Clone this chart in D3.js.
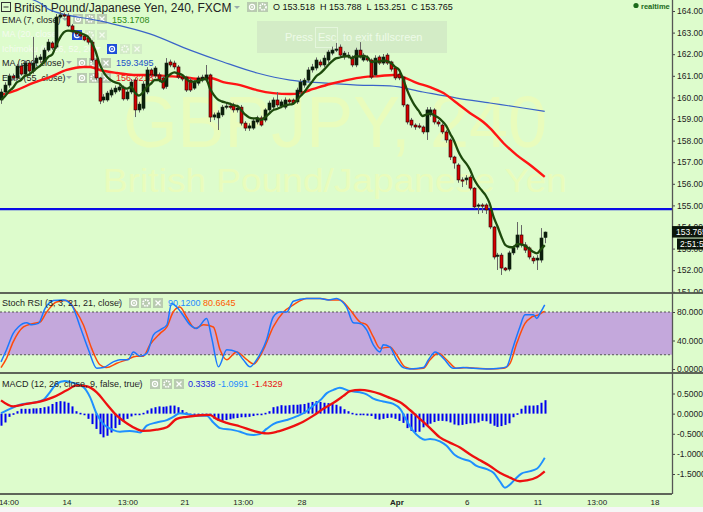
<!DOCTYPE html>
<html><head><meta charset="utf-8">
<script src="https://cdn.jsdelivr.net/npm/d3@7"></script>
<style>
html,body{margin:0;padding:0;background:#ddfccc;overflow:hidden}
svg{display:block;font-family:"Liberation Sans",Arial,sans-serif}
</style></head><body>
<svg id="c" width="703" height="512"></svg>
<script>
// ---------- DATA ----------
const open=[159.88,160.25,160.57,160.99,160.90,161.45,161.08,161.59,161.22,161.59,
161.75,161.64,162.19,162.52,162.33,163.72,163.82,163.77,163.31,163.03,
162.94,162.84,162.75,162.56,161.73,160.90,159.88,159.88,160.11,160.25,
160.34,160.48,159.93,160.25,160.80,159.42,159.50,160.25,161.27,161.00,
161.04,160.90,160.50,161.64,161.59,161.41,160.94,160.94,160.80,160.43,
160.66,160.80,160.80,161.04,159.09,159.05,159.19,159.55,159.60,159.65,
159.42,159.55,158.81,158.58,158.58,158.86,159.05,158.95,159.42,159.55,
159.88,159.60,159.55,159.88,159.88,159.79,160.25,160.57,160.80,161.27,
161.36,161.64,161.50,161.73,162.05,162.19,162.33,161.87,161.87,161.87,
161.50,162.19,161.73,161.82,161.73,161.04,161.87,161.59,161.96,161.64,
161.36,161.08,160.94,159.65,158.95,158.72,158.68,158.63,158.40,159.19,
159.42,158.86,158.72,158.40,158.03,157.24,156.87,156.18,156.18,156.31,
155.80,154.97,155.02,155.02,154.79,154.00,152.66,152.70,152.10,152.05,
152.80,153.07,153.63,153.17,153.03,152.56,152.47,152.47,153.518];
const high=[160.40,160.70,161.10,161.10,161.55,161.60,161.70,161.70,162.80,161.95,
162.00,162.30,162.70,162.60,163.86,163.95,163.92,163.90,163.40,163.10,
163.05,162.95,162.85,162.65,161.80,160.95,160.15,160.30,160.45,160.55,
160.60,160.55,160.35,160.85,160.90,159.80,160.75,161.40,161.35,161.45,
161.15,161.00,161.82,161.75,161.70,161.50,161.05,161.00,160.90,160.80,
161.00,161.05,161.50,161.10,159.30,159.40,159.65,159.75,159.75,159.75,
159.60,159.65,158.90,158.80,159.00,159.15,159.15,159.50,159.85,160.00,
160.25,159.90,160.00,159.95,159.95,160.45,160.85,160.90,161.40,161.55,
161.85,161.75,161.95,162.20,162.35,162.52,162.45,162.15,162.10,161.95,
162.30,162.56,162.05,161.95,161.80,161.95,161.95,162.01,162.05,161.70,
161.45,161.15,161.00,159.70,159.05,158.80,158.80,158.70,159.55,159.55,
159.50,158.95,158.80,158.50,158.10,157.30,156.95,156.30,156.40,156.40,
155.85,155.10,155.10,155.10,154.85,154.05,152.80,152.80,152.15,152.90,
153.15,154.23,154.09,153.30,153.10,152.65,152.70,153.95,153.788];
const low=[159.70,160.05,160.45,160.80,160.80,161.00,160.95,161.10,161.10,161.45,
161.60,161.55,162.10,162.20,162.25,163.65,163.70,163.25,162.95,162.85,
162.75,162.60,162.45,161.65,160.80,159.69,159.75,159.80,160.00,160.15,
160.25,159.85,159.85,160.15,159.09,159.30,159.40,160.15,160.95,160.90,
160.70,160.35,160.40,161.40,161.30,160.85,160.75,160.25,160.25,160.35,
160.55,160.70,160.70,158.86,158.95,158.49,159.10,159.45,159.45,159.30,
159.30,158.70,158.45,158.45,158.50,158.75,158.65,158.85,159.30,159.45,
159.55,159.50,159.45,159.70,159.65,159.70,160.15,160.45,160.70,161.15,
161.25,161.40,161.40,161.60,161.95,162.10,161.85,161.75,161.80,161.40,
161.40,161.80,161.65,161.65,160.85,160.95,161.50,161.50,161.50,161.20,
160.80,160.80,159.55,158.75,158.60,158.50,158.55,158.30,158.03,159.10,
158.75,158.65,158.30,157.90,157.10,156.70,156.05,155.85,155.95,155.70,
154.85,154.60,154.65,154.60,153.90,152.50,152.01,151.78,151.95,151.95,
152.70,152.95,153.05,152.80,152.50,152.30,152.01,152.35,153.251];
const close=[160.25,160.57,160.99,160.90,161.45,161.08,161.59,161.22,161.59,161.82,
161.87,162.19,162.56,162.29,163.72,163.82,163.77,163.31,163.03,162.94,
162.84,162.66,162.56,161.73,160.90,159.83,160.02,160.20,160.34,160.43,
160.48,159.93,160.25,160.71,159.42,159.69,160.62,161.27,161.04,161.36,
160.80,160.43,161.59,161.50,161.41,160.94,160.85,160.34,160.34,160.71,
160.90,160.94,161.04,159.09,159.19,159.28,159.55,159.60,159.55,159.42,
159.51,158.81,158.58,158.68,158.91,159.05,158.72,159.42,159.74,159.88,
159.65,159.79,159.88,159.79,159.74,160.34,160.71,160.80,161.27,161.41,
161.73,161.50,161.82,162.10,162.19,162.24,161.96,162.05,161.96,161.50,
162.19,161.87,161.96,161.73,160.94,161.82,161.59,161.87,161.59,161.31,
160.90,160.90,159.65,158.86,158.72,158.63,158.66,158.40,159.42,159.42,
158.86,158.77,158.40,158.03,157.24,156.96,156.18,156.15,156.27,155.80,
154.93,155.02,155.00,154.79,154.00,152.61,152.70,152.10,152.01,152.80,
153.03,153.63,153.17,152.93,152.61,152.43,152.56,153.49,153.765];
const ema7Start=159.88;
const ema55Idx=[0,4,8.2,12.4,16.7,20.9,22.6,25.1,29.4,33.6,37.8,42.1,46.3,50.5,53,56.4,60.7,64.9,69.1,73.4,75.9,79.3,83.5,87.7,92,96.2,99.6,102.1,105.5,108.9,112.3,115.7,119,122.4,124.1,127.5,130.9,134.3,138];
const ema55Val=[160.11,160.34,160.67,160.94,161.27,161.41,161.41,161.27,161.13,161.04,161.04,160.99,160.94,160.85,160.90,160.71,160.57,160.34,160.20,160.16,160.20,160.39,160.62,160.80,160.94,160.99,161.04,160.94,160.67,160.48,160.20,159.74,159.28,158.86,158.58,157.89,157.33,156.87,156.32];
const ma200Idx=[7,9.9,12.4,25.1,37.8,48,56.4,65,73.4,81.7,90.4,98.7,107.1,115.7,124.1,132.5,138];
const ma200Val=[164.60,164.37,164.05,163.54,162.94,162.19,161.64,161.13,160.80,160.67,160.57,160.53,160.25,159.97,159.74,159.51,159.35];
const levelLine=154.83;
const priceTicks=[151,152,153,154,155,156,157,158,159,160,161,162,163,164];
const kIdx=[0,1.4,3.1,4.4,6.5,7.8,9.5,11.2,13.3,15.8,17.9,20.1,22.2,24.3,26,28.5,30.2,32.3,33.6,35.3,37,38.7,40.4,42.1,43.3,44.6,45.9,48,49.7,52.2,53.5,55.2,57.3,59.8,61.5,63.2,64.9,67.4,69.1,70.8,72.5,74.2,77.6,81,83.1,85.2,86.5,87.7,89.4,91.1,92.8,94.5,96.2,97,98.7,100.4,102.1,103.8,107.2,108.5,110.2,112.3,114.8,117.3,119.9,123.3,126.6,128.3,130,131.7,133,135.1,136,136.8,138];
const kVal=[10,27,50,59,65,62,64,85,96,97,90,59,27,1,2,10,13,13,24,18,22,48,55,62,92,87,78,62,57,71,43,3,27,24,13,3,13,41,73,80,80,95,99,99,97,99,95,87,65,64,55,34,24,34,31,13,2,0,2,13,24,15,1,2,1,0,1,3,31,59,76,76,71,78,90.12];
const dIdx=[0,1.4,3.1,5.7,8.2,9.9,11.6,14.1,16.7,18.8,20.9,23,25.1,26.8,29.4,31.9,34.4,36.1,37.8,40.4,42.1,43.7,45.4,47.1,49.2,51.4,53.9,55.6,57.3,59.8,62.4,64.1,66.6,69.1,71.7,74.2,77.6,81,83.5,86,88.6,91.1,92.8,94.5,96.2,98.7,100.4,102.5,104.7,107.2,108.9,111,113.1,115.6,118.2,120.7,124.1,127.5,129.2,130.9,133,134.7,136.4,137.6,138];
const dVal=[2,15,38,59,64,66,80,94,96,83,62,29,6,2,8,13,18,18,34,50,59,80,87,73,57,62,59,27,13,24,13,7,27,59,80,90,99,99,97,97,83,66,62,45,29,31,20,3,0,1,13,22,13,1,2,1,0,1,8,36,64,73,76,80,80.66];
const stochTicks=[0,40,80];
const macdIdx=[0,2.3,4.8,8.2,10.7,12.4,14.1,16.2,18.4,20.9,22.6,24.3,26,28.5,30.2,32.7,34.4,35.3,37,39.5,42.1,43.7,45.4,47.1,49.7,52.2,53.9,55.6,59,60.7,62.4,64.1,65.7,67.4,69.1,72.5,75,77.6,79.3,81,82.7,84.4,86,88.6,91.1,92.8,94.5,97,99.6,101.3,103,104.6,106.3,107.6,108.9,111.4,113.1,115.2,117.3,119,120.7,123.3,125,126.6,127.9,129.2,130.5,132.1,133.8,136,138];
const macdVal=[0.01,0.12,0.22,0.27,0.34,0.53,0.74,0.81,0.76,0.66,0.41,-0.01,-0.26,-0.41,-0.45,-0.43,-0.45,-0.47,-0.30,-0.22,-0.16,-0.08,0.01,-0.01,-0.05,-0.05,-0.22,-0.36,-0.41,-0.45,-0.51,-0.53,-0.51,-0.38,-0.26,-0.16,-0.07,0.06,0.20,0.33,0.51,0.59,0.64,0.56,0.53,0.48,0.37,0.30,0.24,0.12,-0.18,-0.43,-0.59,-0.65,-0.63,-0.69,-0.80,-1.03,-1.13,-1.18,-1.30,-1.38,-1.47,-1.68,-1.84,-1.76,-1.63,-1.49,-1.44,-1.37,-1.0991];
const sigIdx=[0,3.1,6.5,9.9,13.3,16.7,19.2,21.7,24.3,26.8,29.4,31.9,34.4,36.1,39.5,42.1,44.6,47.1,50.5,53,54.7,57.3,60.7,64.1,67.4,70,73.4,76.7,79.3,81.8,84.4,86.9,88.6,91.1,93.7,96.2,98.7,101.3,103.8,106.3,108.9,111.4,113.9,116.5,119,121.6,124.1,126.6,129.2,131.7,133.4,136,138];
const sigVal=[0.33,0.18,0.24,0.30,0.41,0.58,0.70,0.68,0.53,0.24,-0.05,-0.24,-0.38,-0.43,-0.40,-0.34,-0.13,-0.08,-0.04,-0.03,-0.13,-0.23,-0.32,-0.43,-0.49,-0.45,-0.34,-0.20,-0.05,0.12,0.27,0.44,0.56,0.59,0.56,0.49,0.39,0.28,0.09,-0.13,-0.36,-0.59,-0.72,-0.84,-1.01,-1.16,-1.30,-1.47,-1.59,-1.68,-1.66,-1.58,-1.4329];
const hist=[-0.30,-0.22,-0.08,0.01,0.06,0.12,0.12,0.12,0.13,0.13,
0.14,0.16,0.18,0.24,0.29,0.31,0.30,0.27,0.18,0.06,
0.02,-0.02,-0.13,-0.26,-0.38,-0.51,-0.59,-0.55,-0.47,-0.36,
-0.28,-0.19,-0.13,-0.07,-0.04,-0.02,0.02,0.08,0.13,0.16,
0.18,0.17,0.18,0.20,0.20,0.16,0.09,0.03,-0.02,-0.01,
-0.01,-0.01,-0.01,-0.06,-0.13,-0.18,-0.18,-0.16,-0.14,-0.12,
-0.11,-0.09,-0.09,-0.08,-0.06,-0.03,-0.01,0.02,0.06,0.16,
0.18,0.21,0.20,0.21,0.22,0.22,0.23,0.24,0.27,0.29,
0.31,0.29,0.27,0.26,0.24,0.22,0.18,0.11,0.06,0.02,
-0.01,-0.02,-0.03,-0.05,-0.06,-0.13,-0.15,-0.13,-0.11,-0.10,
-0.13,-0.18,-0.23,-0.36,-0.43,-0.46,-0.45,-0.34,-0.28,-0.25,
-0.21,-0.18,-0.18,-0.19,-0.22,-0.27,-0.29,-0.28,-0.26,-0.24,
-0.24,-0.22,-0.18,-0.19,-0.25,-0.30,-0.33,-0.31,-0.28,-0.24,
-0.09,0.01,0.12,0.20,0.20,0.20,0.21,0.27,0.3338];
const macdTicks=[-1.5,-1,-0.5,0,0.5];
const timeIdx=[2,16.75,32.2,46.7,61.5,76.4,100.5,118.3,136.3,151.3,166];
const timeLabels=["14:00","14","13:00","21","13:00","28","Apr","6","11","13:00","18"];
const title="British Pound/Japanese Yen, 240, FXCM";
const ohlcText="O 153.518  H 153.788  L 153.251  C 153.765";
const legendEMA7="EMA (7, close)", legendMA20="MA (20, close)", legendIchi="Ichimoku (9, 26, 52, 26)",
      legendMA200="MA (200, close)", legendEMA55="EMA (55, close)";
const stochLegend="Stoch RSI (3, 3, 21, 21, close)", macdLegend="MACD (12, 26, close, 9, false, true)";

// ---------- SCALES ----------
const svg=d3.select('#c');
const BG="#ddfccc", AX=672;
const x=d3.scaleLinear().domain([0,138]).range([1,1+138*3.94]);
const yP=d3.scaleLinear().domain([151,164]).range([291.8,11]);
const yS=d3.scaleLinear().domain([0,80]).range([369,312]);
const yM=d3.scaleLinear().domain([-1.5,0.5]).range([474,393.5]);

const defs=svg.append('defs');
function clip(id,cx,cy,w,h){defs.append('clipPath').attr('id',id).append('rect').attr('x',cx).attr('y',cy).attr('width',w).attr('height',h);}
clip('cm',0,0,AX,293);clip('cs',0,293,AX,80);clip('cd',0,373,AX,121);
clip('cam',AX,0,31,292.5);clip('cas',AX,293.5,31,79);clip('cad',AX,373.5,31,120);

svg.append('rect').attr('width',703).attr('height',512).attr('fill',BG);

// watermark
svg.append('text').attr('x',335).attr('y',147).attr('text-anchor','middle').attr('font-size',72)
  .attr('textLength',424).attr('lengthAdjust','spacingAndGlyphs').attr('fill','#e9fcbc').text("GBPJPY, 240");
svg.append('text').attr('x',335).attr('y',192).attr('text-anchor','middle').attr('font-size',33)
  .attr('textLength',464).attr('lengthAdjust','spacingAndGlyphs').attr('fill','#e9fcbc').text("British Pound/Japanese Yen");

// fullscreen overlay
const fs=svg.append('g');
fs.append('rect').attr('x',257).attr('y',21).attr('width',190).attr('height',32).attr('fill','#d3ecc6');
fs.append('rect').attr('x',315.5).attr('y',27.5).attr('width',22).attr('height',20).attr('fill','none').attr('stroke','#e4f6dc');
fs.selectAll('text').data([["Press",285],["Esc",318],["to exit fullscreen",343]]).join('text')
  .attr('x',d=>d[1]).attr('y',41).attr('font-size',11).attr('fill','#eefbe8').text(d=>d[0]);

// legend helpers
function arrow(g,ax,ay,col){g.append('path').attr('d',`M${ax},${ay}h6l-3,3z`).attr('fill',col);}
function btn(g,bx,by,kind,fill,ic){
  g.append('rect').attr('x',bx).attr('y',by).attr('width',10).attr('height',10).attr('fill',fill);
  if(kind==='eye'){g.append('circle').attr('cx',bx+5).attr('cy',by+5).attr('r',2.6).attr('fill','none').attr('stroke',ic).attr('stroke-width',1.2);
    g.append('circle').attr('cx',bx+5).attr('cy',by+5).attr('r',0.9).attr('fill',ic);}
  else if(kind==='gear'){g.append('circle').attr('cx',bx+5).attr('cy',by+5).attr('r',3).attr('fill','none').attr('stroke',ic).attr('stroke-width',1.8).attr('stroke-dasharray','1.5,1');}
  else {g.append('path').attr('d',`M${bx+2.5},${by+2.5}l5,5M${bx+7.5},${by+2.5}l-5,5`).attr('stroke',ic).attr('stroke-width',1.3);}
}
const G="#b9cbb1", GF="#d2ebc6", W1="#f4fbef";
const lg=svg.append('g').attr('font-size',9);
// title row
lg.append('rect').attr('x',1.5).attr('y',2.5).attr('width',9).attr('height',9).attr('fill','none').attr('stroke','#333');
lg.append('line').attr('x1',3.5).attr('x2',8.5).attr('y1',7).attr('y2',7).attr('stroke','#333');
lg.append('text').attr('x',14).attr('y',12).attr('font-size',12).attr('fill','#222').text(title);
arrow(lg,234,6,'#9aa');
btn(lg,247,2,'eye',G,'#fff');btn(lg,258,2,'gear',G,'#fff');
lg.append('text').attr('x',273).attr('y',10).attr('font-size',9).attr('fill','#111').attr('xml:space','preserve').text(ohlcText);
lg.append('circle').attr('cx',636).attr('cy',5.5).attr('r',2.6).attr('fill','#1a6b1a');
lg.append('text').attr('x',641).attr('y',8.5).attr('font-size',7.5).attr('font-weight','bold').attr('fill','#1a6b1a').text('realtime');
// indicator rows
lg.append('text').attr('x',2).attr('y',23).attr('fill','#222').text(legendEMA7);
arrow(lg,62,18,'#9aa');btn(lg,73,14,'eye',G,'#fff');btn(lg,85,14,'gear',G,'#fff');btn(lg,97,14,'x',G,'#fff');
lg.append('text').attr('x',112).attr('y',23).attr('fill','#2e8a16').text('153.1708');
lg.append('text').attr('x',2).attr('y',37).attr('fill',W1).text(legendMA20);
btn(lg,72,30,'eye','#1f4fd8','#fff');btn(lg,85,30,'gear',GF,W1);btn(lg,97,30,'x',GF,W1);
lg.append('text').attr('x',2).attr('y',52).attr('fill',W1).text(legendIchi);
arrow(lg,95,47,W1);btn(lg,107,44,'eye','#1f4fd8','#fff');btn(lg,120,44,'gear',GF,W1);btn(lg,132,44,'x',GF,W1);
lg.append('text').attr('x',2).attr('y',66).attr('fill','#222').text(legendMA200);
arrow(lg,66,61,'#9aa');btn(lg,77,58,'eye',G,'#fff');btn(lg,89,58,'gear',G,'#fff');btn(lg,101,58,'x',G,'#fff');
lg.append('text').attr('x',116).attr('y',66).attr('fill','#2050c8').text('159.3495');
lg.append('text').attr('x',2).attr('y',81).attr('fill','#222').text(legendEMA55);
arrow(lg,66,76,'#9aa');btn(lg,77,73,'eye',G,'#fff');btn(lg,89,73,'gear',G,'#fff');btn(lg,101,73,'x',G,'#fff');
lg.append('text').attr('x',116).attr('y',81).attr('fill','#e81010').text('156.3218');

// ---------- MAIN PANEL ----------
const gm=svg.append('g').attr('clip-path','url(#cm)');
const lineP=d3.line().x(d=>x(d[0])).y(d=>yP(d[1])).curve(d3.curveMonotoneX);
gm.append('path').datum(d3.zip(ma200Idx,ma200Val)).attr('d',lineP).attr('fill','none').attr('stroke','#3a64c8').attr('stroke-width',1.2);
gm.append('path').datum(d3.zip(ema55Idx,ema55Val)).attr('d',lineP).attr('fill','none').attr('stroke','#ff1414').attr('stroke-width',2.4);
gm.append('line').attr('x1',0).attr('x2',AX).attr('y1',yP(levelLine)).attr('y2',yP(levelLine)).attr('stroke','#0a0ae6').attr('stroke-width',2.2);
const idx=d3.range(close.length);
gm.append('g').selectAll('line').data(idx).join('line')
  .attr('x1',i=>Math.round(x(i))+0.5).attr('x2',i=>Math.round(x(i))+0.5)
  .attr('y1',i=>yP(high[i])).attr('y2',i=>yP(low[i])).attr('stroke','#666').attr('stroke-width',1);
gm.append('g').selectAll('rect').data(idx).join('rect')
  .attr('x',i=>Math.round(x(i))-1).attr('width',3)
  .attr('y',i=>yP(Math.max(open[i],close[i])))
  .attr('height',i=>Math.max(1.2,Math.abs(yP(open[i])-yP(close[i]))))
  .attr('fill',i=>close[i]>=open[i]?'#0c1f0c':'#d40000')
  .attr('stroke',i=>close[i]>=open[i]?'#0c1f0c':'#1a0000').attr('stroke-width',0.6);
const ema7=[];let e=ema7Start;
close.forEach((c,i)=>{if(i>0)e=e+(c-e)*2/8;ema7.push([i,e]);});
gm.append('path').datum(ema7).attr('d',lineP).attr('fill','none').attr('stroke','#1d4a0c').attr('stroke-width',2.3);

// ---------- STOCH RSI PANEL ----------
const gs=svg.append('g').attr('clip-path','url(#cs)');
gs.append('rect').attr('x',0).attr('width',AX).attr('y',yS(80)).attr('height',yS(20)-yS(80)).attr('fill','#c4a8dc');
[80,20].forEach(v=>gs.append('line').attr('x1',0).attr('x2',AX).attr('y1',yS(v)).attr('y2',yS(v)).attr('stroke','#555').attr('stroke-dasharray','2,2'));
const sg=svg.append('g').attr('font-size',9);
sg.append('text').attr('x',2).attr('y',306).attr('fill','#222').text(stochLegend);
arrow(sg,116,301,'#9aa');btn(sg,129,298,'eye',G,'#fff');btn(sg,141,298,'gear',G,'#fff');btn(sg,153,298,'x',G,'#fff');
sg.append('text').attr('x',168).attr('y',306).attr('fill','#1e8cff').text('90.1200');
sg.append('text').attr('x',203).attr('y',306).attr('fill','#ff5a00').text('80.6645');
const lineS=d3.line().x(d=>x(d[0])).y(d=>yS(d[1])).curve(d3.curveMonotoneX);
gs.append('path').datum(d3.zip(dIdx,dVal)).attr('d',lineS).attr('fill','none').attr('stroke','#ff4a0a').attr('stroke-width',1.5);
gs.append('path').datum(d3.zip(kIdx,kVal)).attr('d',lineS).attr('fill','none').attr('stroke','#1a78ff').attr('stroke-width',1.5);

// ---------- MACD PANEL ----------
const gd=svg.append('g').attr('clip-path','url(#cd)');
const mg=svg.append('g').attr('font-size',9);
mg.append('text').attr('x',2).attr('y',387).attr('fill','#222').text(macdLegend);
arrow(mg,136,382,'#9aa');btn(mg,150,379,'eye',G,'#fff');btn(mg,162,379,'gear',G,'#fff');btn(mg,174,379,'x',G,'#fff');
mg.append('text').attr('x',188).attr('y',387).attr('fill','#1c1ce0').text('0.3338');
mg.append('text').attr('x',218).attr('y',387).attr('fill','#1e8cff').text('-1.0991');
mg.append('text').attr('x',252).attr('y',387).attr('fill','#e81010').text('-1.4329');
gd.append('g').selectAll('rect').data(idx).join('rect')
  .attr('x',i=>Math.round(x(i))-0.5).attr('width',2)
  .attr('y',i=>yM(Math.max(hist[i],0)))
  .attr('height',i=>Math.max(1.6,Math.abs(yM(hist[i])-yM(0))))
  .attr('fill','#0000f0');
const lineM=d3.line().x(d=>x(d[0])).y(d=>yM(d[1])).curve(d3.curveMonotoneX);
gd.append('path').datum(d3.zip(macdIdx,macdVal)).attr('d',lineM).attr('fill','none').attr('stroke','#1e90ff').attr('stroke-width',2);
gd.append('path').datum(d3.zip(sigIdx,sigVal)).attr('d',lineM).attr('fill','none').attr('stroke','#ee1010').attr('stroke-width',2.3);

// ---------- AXES & FRAME ----------
function styleAxis(g){g.select('.domain').remove();g.selectAll('text').attr('fill','#222').attr('font-size',8.5).attr('font-family','"Liberation Sans",Arial,sans-serif');g.selectAll('line').attr('stroke','#444');}
svg.append('g').attr('clip-path','url(#cam)').append('g').attr('transform',`translate(${AX},0)`)
  .call(d3.axisRight(yP).tickValues(priceTicks).tickFormat(d=>d.toFixed(3)).tickSize(3).tickPadding(2)).call(styleAxis);
svg.append('g').attr('clip-path','url(#cas)').append('g').attr('transform',`translate(${AX},0)`)
  .call(d3.axisRight(yS).tickValues(stochTicks).tickFormat(d=>d.toFixed(4)).tickSize(3).tickPadding(2)).call(styleAxis);
svg.append('g').attr('clip-path','url(#cad)').append('g').attr('transform',`translate(${AX},0)`)
  .call(d3.axisRight(yM).tickValues(macdTicks).tickFormat(d=>d.toFixed(4)).tickSize(3).tickPadding(2)).call(styleAxis);

svg.append('line').attr('x1',0).attr('x2',703).attr('y1',293).attr('y2',293).attr('stroke','#333').attr('stroke-width',1.3);
svg.append('line').attr('x1',0).attr('x2',703).attr('y1',373).attr('y2',373).attr('stroke','#333').attr('stroke-width',1.3);
svg.append('line').attr('x1',0).attr('x2',AX).attr('y1',494).attr('y2',494).attr('stroke','#333').attr('stroke-width',1.3);
svg.append('line').attr('x1',AX+0.5).attr('x2',AX+0.5).attr('y1',0).attr('y2',494).attr('stroke','#555').attr('stroke-width',1.3);

// price badges
const lastClose=close[close.length-1];
svg.append('rect').attr('x',AX).attr('y',yP(lastClose)-6).attr('width',31).attr('height',11.5).attr('fill','#0b160b');
svg.append('text').attr('x',AX+4).attr('y',yP(lastClose)+3).attr('font-size',8.5).attr('fill','#fff').text(lastClose.toFixed(3));
svg.append('rect').attr('x',AX+5).attr('y',yP(lastClose)+6.5).attr('width',26).attr('height',11).attr('fill','#0b160b');
svg.append('text').attr('x',AX+8).attr('y',yP(lastClose)+15).attr('font-size',8.5).attr('fill','#fff').text('2:51:53');

// time labels
svg.append('g').selectAll('text').data(timeIdx).join('text')
  .attr('x',d=>x(d)).attr('y',505).attr('text-anchor','middle').attr('font-size',8)
  .attr('font-weight',(d,i)=>timeLabels[i]==='Apr'?'bold':'normal').attr('fill','#222')
  .text((d,i)=>timeLabels[i]);
svg.append('rect').attr('x',0).attr('y',507).attr('width',703).attr('height',5).attr('fill','#f6f6f6');
</script>
</body></html>
